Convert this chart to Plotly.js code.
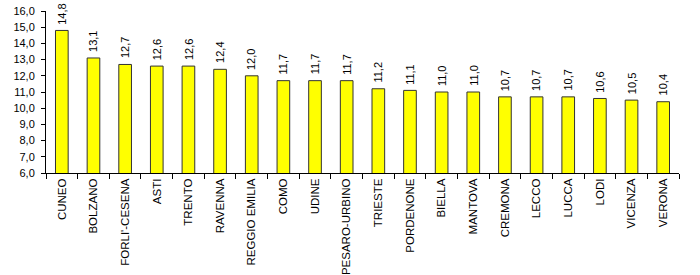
<!DOCTYPE html>
<html><head><meta charset="utf-8">
<script src="https://cdn.plot.ly/plotly-3.0.1.min.js"></script>
<style>html,body{margin:0;padding:0;background:#fff}#c{width:700px;height:275px}</style>
</head><body><div id="c"></div>
<script>
const categories = ["CUNEO","BOLZANO","FORLI'-CESENA","ASTI","TRENTO","RAVENNA","REGGIO EMILIA","COMO","UDINE","PESARO-URBINO","TRIESTE","PORDENONE","BIELLA","MANTOVA","CREMONA","LECCO","LUCCA","LODI","VICENZA","VERONA"];
const values = [14.8,13.1,12.7,12.6,12.6,12.4,12.0,11.7,11.7,11.7,11.2,11.1,11.0,11.0,10.7,10.7,10.7,10.6,10.5,10.4];
const yTicks = [6,7,8,9,10,11,12,13,14,15,16];
const yTickLabels = ["6,0","7,0","8,0","9,0","10,0","11,0","12,0","13,0","14,0","15,0","16,0"];

const FONT = 'Liberation Sans, Arial, sans-serif';
const labels = values.map(v => v.toFixed(1).replace('.', ','));
const annotations = categories.map((c, i) => ({
  x: c, y: values[i], xref: 'x', yref: 'y', text: labels[i], textangle: -90,
  showarrow: false, xanchor: 'center', yanchor: 'bottom', yshift: 4,
  font: {family: FONT, size: 11, color: '#000'}
}));

function fixRotation() {
  document.querySelectorAll('.annotation-text-g').forEach(g => {
    const tr = g.getAttribute('transform') || '';
    if (tr.indexOf('rotate') >= 0 || g.dataset.fixed) return;
    const b = g.getBBox();
    const cx = b.x + b.width / 2, cy = b.y + b.height / 2;
    const dy = -(b.width - b.height) / 2;
    g.setAttribute('transform', 'translate(0,' + dy + ') rotate(-90,' + cx + ',' + cy + ')');
    g.dataset.fixed = '1';
  });
}

Plotly.newPlot('c', [{
  type: 'bar', x: categories, y: values,
  marker: {color: '#FFFF00', line: {color: '#333333', width: 1}},
  hoverinfo: 'none'
}], {
  width: 700, height: 275,
  margin: {l: 46, r: 21, t: 11, b: 102},
  paper_bgcolor: '#fff', plot_bgcolor: '#fff',
  bargap: 0.6,
  showlegend: false,
  annotations: annotations,
  xaxis: {
    type: 'category', tickangle: -90, ticks: 'outside', ticklen: 5, tickcolor: '#000',
    tickson: 'boundaries', showline: true, linecolor: '#000', linewidth: 1,
    showgrid: false, zeroline: false, automargin: false,
    tickfont: {family: FONT, size: 11.5, color: '#000'}
  },
  yaxis: {
    range: [6, 16], tickvals: yTicks, ticktext: yTickLabels, ticks: 'outside', ticklen: 4,
    tickcolor: '#000', showline: true, linecolor: '#000', linewidth: 1,
    showgrid: false, zeroline: false, automargin: false,
    tickfont: {family: FONT, size: 11, color: '#000'},
    ticklabelstandoff: 4
  }
}, {displayModeBar: false}).then(() => {
  fixRotation();
  setTimeout(fixRotation, 50);
});
</script></body></html>
